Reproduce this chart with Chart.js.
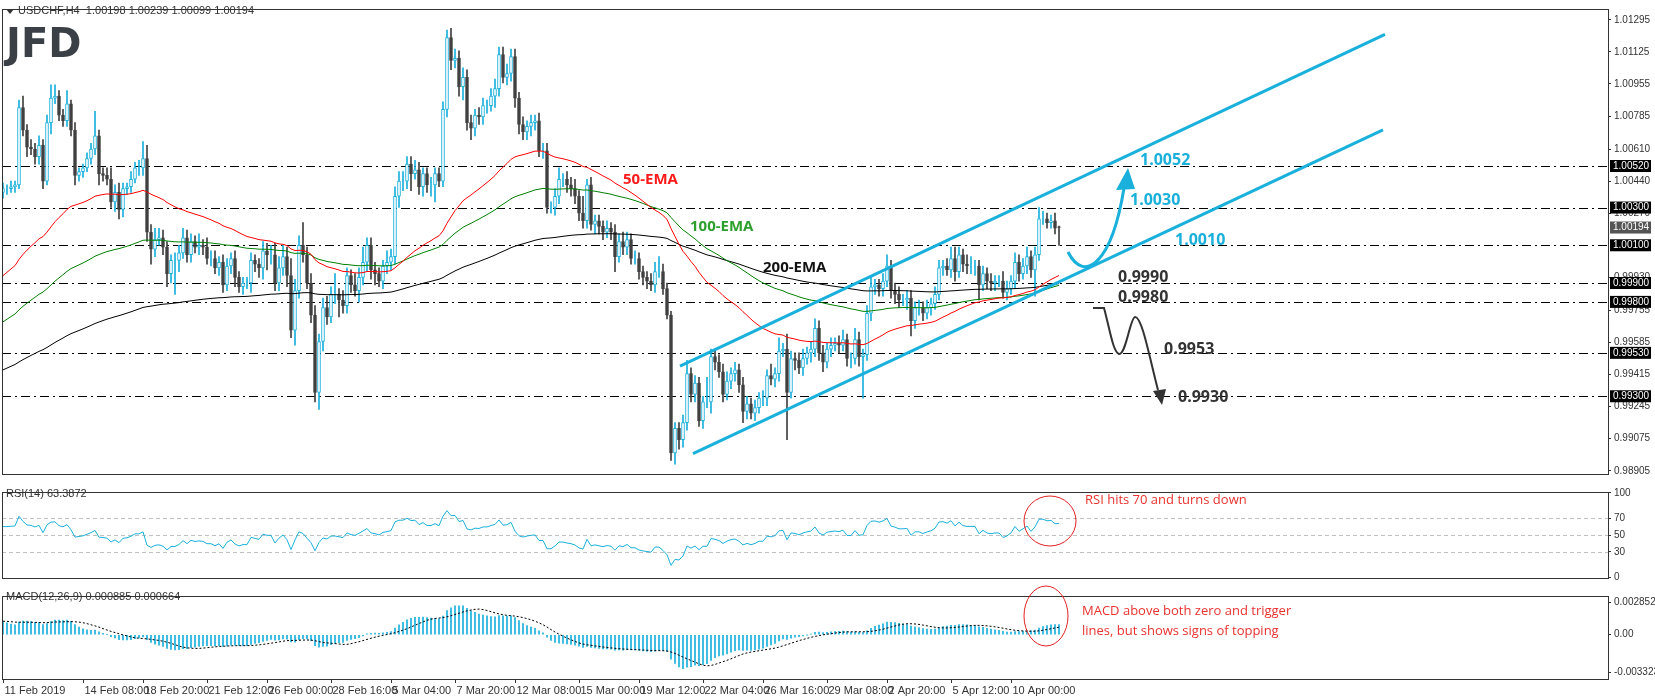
<!DOCTYPE html>
<html><head><meta charset="utf-8">
<script src="https://cdn.jsdelivr.net/npm/chart.js@4.4.1/dist/chart.umd.min.js"></script>
<style>
body{margin:0;width:1655px;height:700px;background:#fff;position:relative;overflow:hidden;font-family:'DejaVu Sans',sans-serif}
canvas{position:absolute;left:0;display:block}
#ov{top:0;pointer-events:none}
</style></head><body>
<canvas id="c1" width="1655" height="483" style="top:0;width:1655px;height:483px"></canvas>
<canvas id="c2" width="1655" height="104" style="top:483px;width:1655px;height:104px"></canvas>
<canvas id="c3" width="1655" height="113" style="top:587px;width:1655px;height:113px"></canvas>
<canvas id="ov" width="1655" height="700" style="width:1655px;height:700px"></canvas>
<script>
// ---- data ----
const closes = [
1.0040,1.0040,1.0041,1.0042,1.0083,1.0071,1.0062,1.0061,1.0057,1.0063,
1.0044,1.0075,1.0088,1.0089,1.0079,1.0076,1.0085,1.0071,1.0047,1.0049,
1.0051,1.0056,1.0061,1.0068,1.0048,1.0047,1.0045,1.0033,1.0038,1.0029,
1.0040,1.0041,1.0045,1.0051,1.0051,1.0056,1.0017,1.0008,1.0013,1.0014,
1.0009,0.9995,1.0002,1.0002,1.0006,1.0014,1.0005,1.0012,1.0009,1.0010,
1.0009,1.0003,1.0003,0.9998,1.0001,0.9989,0.9999,1.0003,0.9993,0.9988,
0.9990,0.9990,
1.0002,1.0000,0.9998,1.0007,1.0005,1.0005,0.9990,0.9998,1.0004,0.9994,
0.9965,0.9986,1.0010,1.0005,0.9990,0.9973,0.9932,0.9959,0.9977,0.9972,
0.9984,0.9984,0.9981,0.9978,0.9994,0.9989,0.9986,0.9993,1.0001,1.0010,
0.9997,0.9995,0.9991,0.9999,1.0001,1.0004,1.0036,1.0044,1.0044,1.0053,
1.0048,1.0050,1.0041,1.0048,1.0042,1.0042,1.0048,1.0044,1.0082,1.0120,
1.0108,1.0109,1.0094,1.0099,1.0075,1.0072,1.0079,1.0078,1.0084,1.0084,
1.0089,1.0093,1.0111,1.0099,1.0101,
1.0110,1.0088,1.0074,1.0070,1.0073,1.0075,1.0076,1.0060,1.0060,1.0030,
1.0030,1.0036,1.0045,1.0045,1.0042,1.0040,1.0036,1.0027,1.0023,1.0042,
1.0021,1.0023,1.0020,1.0017,1.0019,1.0017,1.0004,1.0012,1.0009,1.0013,
1.0003,1.0003,0.9996,0.9993,0.9991,0.9989,0.9996,0.9996,0.9987,0.9973,
0.9900,
0.9913,0.9907,0.9916,0.9942,0.9931,0.9937,0.9917,0.9927,0.9927,0.9951,
0.9948,0.9943,0.9931,0.9938,0.9942,0.9944,0.9936,0.9922,0.9926,0.9921,
0.9924,0.9929,
0.9929,0.9941,0.9939,0.9942,0.9954,0.9955,0.9932,0.9950,0.9949,0.9945,
0.9950,0.9953,0.9955,0.9966,0.9953,0.9948,0.9955,0.9957,0.9958,0.9957,
0.9960,0.9950,0.9950,0.9960,0.9951,0.9952,0.9974,0.9988,0.9989,0.9987,
0.9991,0.9999,0.9986,0.9984,0.9981,0.9981,0.9982,0.9970,0.9977,0.9977,
0.9974,0.9977,0.9979,0.9984,0.9998,0.9999,0.9997,1.0003,0.9996,1.0005,
1.0000,0.9999,0.9999,0.9999,0.9989,0.9995,0.9991,0.9990,0.9991,0.9991,
0.9985,0.9987,0.9991,1.0001,0.9995,0.9999,1.0004,0.9997,1.0005,1.0024,
1.0024,1.0022,1.0023,1.0019,1.00194];
const firstOpen = 1.0038;
const lastOpen = 1.00198;
// upper / lower wick lengths in pips
const upWick = [
3,2,3,2,4,6,3,4,3,5, 3,4,7,6,3,3,7,2,4,2, 2,3,3,13,3,3,4,6,4,5, 3,2,4,3,4,9,7,4,6,5,
4,3,3,4,4,5,4,4,3,6, 3,5,4,4,3,4,4,3,4,3, 3,3,4,3,3,5,4,5,6,6, 6,5,9,6,5,12,4,5,5,4,
5,6,4,11,3,5,4,3,6,5, 8,4,4,4,3,3,6,4,5,5, 5,4,4,5,4,3,3,4,3,3, 4,4,5,5,4,5,4,4,3,4,
4,3,4,5,4,4,5,4,4,3, 4,3,4,3,4,4,4,3,4,6, 3,4,4,5,3,9,3,4,3,3, 3,4,3,4,4,5,4,3,4,3,
3,3,4,5,8,4,3,2,3,3, 4,7,3,4,3,3,13,4,3,4, 4,5,3,4,3,4,4,3,4,3, 4,3,6,3,7,3,8,4,3,4,
5,3,4,5,4,4,3,4,3,4, 5,3,3,6,4,3,4,5,3,3, 4,6,3,4,4,3,4,4,3,4, 3,4,3,4,4,3,4,6,6,4,
3,5,5,3,3,4,3,4,3,3, 5,4,3,5,4,4,5,3,4,6, 4,3,3,4,0.41];
const lowWick = [
3,3,2,3,2,3,5,3,4,4, 4,2,6,3,3,3,3,3,5,3, 3,2,3,3,6,3,3,3,5,5, 4,3,3,2,4,4,5,8,4,3,
4,7,5,18,6,3,4,4,3,4, 4,3,4,3,4,4,3,4,5,3, 4,3,5,4,5,6,8,5,4,4, 4,6,4,8,4,4,3,4,5,9,
5,4,3,5,9,4,4,4,3,6, 4,5,5,6,3,4,4,4,4,6, 5,4,9,3,4,5,4,6,9,3, 3,4,5,4,5,7,4,6,4,4,
4,4,3,6,4,3,4,4,5,5, 4,4,5,4,3,4,3,3,4,4, 4,4,4,4,4,4,4,3,5,4, 4,3,4,8,3,4,4,3,3,4,
4,4,3,4,3,3,2,4,6,5, 4,4,4,4,3,4,3,6,4,3, 4,3,4,4,4,6,4,3,4,3, 4,4,3,4,4,3,25,3,5,3,
4,3,5,4,4,5,3,4,3,4, 3,4,5,3,5,22,3,4,4,4, 4,3,4,5,4,3,5,8,4,4, 4,3,4,3,3,4,3,4,5,3,
4,4,4,5,8,3,4,4,4,3, 3,4,3,4,4,3,4,4,14,3, 3,3,3,3,9.5];
const emaSeeds = {ema50:0.9992, ema100:0.9968, ema200:0.9943};
const levels = [1.0052,1.0030,1.0010,0.9990,0.9980,0.9953,0.9930];
const priceTicks = [1.01295,1.01125,1.00955,1.00785,1.00610,1.00440,1.00270,0.99930,0.99755,0.99585,0.99415,0.99245,0.99075,0.98905];
const rsiTicks = [0,30,50,70,100];
const macdTicks = [-0.003323,0,0.002852];
const dateLabels = ['11 Feb 2019','14 Feb 08:00','18 Feb 20:00','21 Feb 12:00','26 Feb 00:00','28 Feb 16:00','5 Mar 04:00','7 Mar 20:00','12 Mar 08:00','15 Mar 00:00','19 Mar 12:00','22 Mar 04:00','26 Mar 16:00','29 Mar 08:00','2 Apr 20:00','5 Apr 12:00','10 Apr 00:00'];
const dateIdx = [0,20,35,51,66,82,97,113,128,144,159,175,190,206,221,237,252];
const upperChannel = [[169.25,0.99460],[345.5,1.01218]];
const lowerChannel = [[172.5,0.98996],[345,1.00712]];

// ---- derived ----
const N = closes.length;
const opens = closes.map((c,i)=> i===0?firstOpen:(i===N-1?lastOpen:closes[i-1]));
const highs = closes.map((c,i)=>Math.max(c,opens[i])+upWick[i]*0.0001);
const lows = closes.map((c,i)=>Math.min(c,opens[i])-lowWick[i]*0.0001);
function ema(arr,n,seed){const k=2/(n+1);let e=seed;return arr.map(c=>(e=e+k*(c-e)));}
const e50=ema(closes,50,emaSeeds.ema50), e100=ema(closes,100,emaSeeds.ema100), e200=ema(closes,200,emaSeeds.ema200);
let ag=0.0006,al=0.0004;
const rsi=closes.map((c,i)=>{const d=i?c-closes[i-1]:0;ag=(ag*13+Math.max(d,0))/14;al=(al*13+Math.max(-d,0))/14;return 100-100/(1+ag/al);});
const e12=ema(closes,12,closes[0]+0.0005), e26=ema(closes,26,closes[0]-0.0008);
const macd=e12.map((v,i)=>v-e26[i]);
const sig=macd.map((v,i)=>{let s=0;for(let j=i-8;j<=i;j++)s+=(j<0?0.0012:macd[j]);return s/9;});

const CY='#1ab0dc', BR='#404040';
const AXF='"Liberation Sans"';
const XMIN=-0.25, XMAX=401.25;
const pts=a=>a.map((v,i)=>({x:i,y:v}));
Chart.defaults.font.family="'DejaVu Sans',sans-serif";
Chart.defaults.animation=false;
function yAxis(min,max,ticks,fmt){return {position:'right',min,max,
  afterBuildTicks:a=>{a.ticks=ticks.map(v=>({value:v}));},
  afterFit:a=>{a.width=47;},
  ticks:{color:'#333',font:{size:10,family:AXF},padding:3,callback:fmt,autoSkip:false},
  grid:{drawOnChartArea:false,drawTicks:true,tickLength:3,color:'#333'},
  border:{color:'#333'}};}
const xAxis={type:'linear',min:XMIN,max:XMAX,offset:false,bounds:'ticks',display:false,grid:{offset:false}};
const frame={id:'frame',afterDraw(ch){const a=ch.chartArea,c=ch.ctx;c.save();c.strokeStyle='#333';c.lineWidth=1;c.strokeRect(a.left+0.5,a.top+0.5,a.right-a.left,a.bottom-a.top);c.restore();}};
const baseOpts=(pad)=>({responsive:false,maintainAspectRatio:false,devicePixelRatio:1,layout:{padding:pad},
  plugins:{legend:{display:false},tooltip:{enabled:false}}});

// price chart
const levelPlugin={id:'lv',beforeDatasetsDraw(ch){const c=ch.ctx,y=ch.scales.y,a=ch.chartArea;c.save();c.strokeStyle='#000';c.lineWidth=1;c.setLineDash([9,4,2,4]);
  levels.forEach(v=>{const py=Math.round(y.getPixelForValue(v))+0.5;c.beginPath();c.moveTo(a.left,py);c.lineTo(a.right,py);c.stroke();});c.restore();},
 afterDraw(ch){const c=ch.ctx,y=ch.scales.y,a=ch.chartArea;c.save();c.font='10px '+AXF;c.textBaseline='middle';
  const box=(v,txt,col)=>{const py=y.getPixelForValue(v);c.fillStyle=col;c.fillRect(a.right+2,py-6,41,12);c.fillStyle='#fff';c.fillText(txt,a.right+5,py);};
  levels.forEach(v=>box(v,v.toFixed(5),'#000'));box(closes[N-1],closes[N-1].toFixed(5),'#555');c.restore();}};
const o1=baseOpts({left:2,top:3,bottom:2,right:0});
o1.scales={x:xAxis,y:yAxis(0.98888,1.01352,priceTicks,v=>v.toFixed(5))};
new Chart(document.getElementById('c1'),{
 data:{datasets:[
  {type:'line',label:'u',data:upperChannel.map(p=>({x:p[0],y:p[1]})),borderColor:CY,borderWidth:3,pointRadius:0,order:0},
  {type:'line',label:'l',data:lowerChannel.map(p=>({x:p[0],y:p[1]})),borderColor:CY,borderWidth:3,pointRadius:0,order:0},
  {type:'line',label:'50',data:pts(e50),borderColor:'#ff0000',borderWidth:1,pointRadius:0,order:1},
  {type:'line',label:'100',data:pts(e100),borderColor:'#008000',borderWidth:1,pointRadius:0,order:1},
  {type:'line',label:'200',data:pts(e200),borderColor:'#000',borderWidth:1,pointRadius:0,order:1},
  {type:'bar',label:'body',data:closes.map((c,i)=>({x:i,y:[opens[i],c]})),barThickness:3,grouped:false,borderSkipped:false,borderWidth:1,
    backgroundColor:closes.map((c,i)=>c>=opens[i]?'#fff':BR),borderColor:closes.map((c,i)=>c>=opens[i]?CY:BR),order:2},
  {type:'bar',label:'wick',data:closes.map((c,i)=>({x:i,y:[lows[i],highs[i]]})),barThickness:1,grouped:false,
    backgroundColor:closes.map((c,i)=>c>=opens[i]?CY:BR),order:3}
 ]},
 options:o1,plugins:[levelPlugin,frame]});

// RSI
const rsiPlugin={id:'rg',beforeDatasetsDraw(ch){const c=ch.ctx,y=ch.scales.y,a=ch.chartArea;c.save();c.strokeStyle='#c0c0c0';c.setLineDash([4,3]);
  [30,50,70].forEach(v=>{const py=Math.round(y.getPixelForValue(v))+0.5;c.beginPath();c.moveTo(a.left,py);c.lineTo(a.right,py);c.stroke();});c.restore();}};
const o2=baseOpts({left:2,top:1,bottom:1,right:0});
o2.scales={x:xAxis,y:yAxis(-1,101,rsiTicks,v=>String(v))};
new Chart(document.getElementById('c2'),{
 data:{datasets:[{type:'line',data:pts(rsi),borderColor:CY,borderWidth:1,pointRadius:0}]},
 options:o2,plugins:[rsiPlugin,frame]});

// MACD
const datePlugin={id:'dt',afterDraw(ch){const c=ch.ctx,x=ch.scales.x,a=ch.chartArea;c.save();c.strokeStyle='#333';c.fillStyle='#333';c.font='11px '+AXF;c.textBaseline='top';
  dateIdx.forEach((d,k)=>{const px=Math.round(x.getPixelForValue(d))+0.5;c.beginPath();c.moveTo(px,a.bottom);c.lineTo(px,a.bottom+4);c.stroke();c.fillText(dateLabels[k],px+1,a.bottom+6);});c.restore();}};
const o3=baseOpts({left:2,top:2,bottom:21,right:0});
o3.scales={x:xAxis,y:yAxis(-0.00391,0.00342,macdTicks,v=>v===0?'0.00':String(v))};
new Chart(document.getElementById('c3'),{
 data:{datasets:[
  {type:'line',data:pts(sig),borderColor:'#000',borderWidth:1,borderDash:[2,2],pointRadius:0,order:0},
  {type:'bar',data:pts(macd),backgroundColor:CY,barThickness:1,grouped:false,order:1}]},
 options:o3,plugins:[datePlugin,frame]});

// overlay annotations
const o=document.getElementById('ov').getContext('2d');
o.fillStyle='#333';o.font='11px '+AXF;o.textBaseline='middle';
o.beginPath();o.moveTo(6,9);o.lineTo(14,9);o.lineTo(10,14);o.fill();
o.fillText('USDCHF,H4  1.00198 1.00239 1.00099 1.00194',18,11);
o.fillText('RSI(14) 63.3872',6,494);
o.fillText('MACD(12,26,9) 0.000885 0.000664',6,597);
o.fillStyle='#3b3f46';o.font='bold 40px DejaVu Sans';o.textBaseline='alphabetic';o.fillText('JFD',6,57);
o.textBaseline='middle';o.font='bold 15px "Open Sans"';
o.fillStyle='#ff1a1a';o.fillText('50-EMA',623,180);
o.fillStyle='#2ca02c';o.fillText('100-EMA',690,227);
o.fillStyle='#111';o.fillText('200-EMA',763,268);
o.font='bold 16px "Open Sans"';
o.fillStyle=CY;o.fillText('1.0052',1140,160);o.fillText('1.0030',1130,200);o.fillText('1.0010',1175,240);
o.fillStyle='#333';o.fillText('0.9990',1118,277);o.fillText('0.9980',1118,297);o.fillText('0.9953',1164,349);o.fillText('0.9930',1178,397);
o.strokeStyle=CY;o.lineWidth=3;o.beginPath();o.moveTo(1068,252);o.bezierCurveTo(1085,285,1112,262,1124,188);o.stroke();
o.fillStyle=CY;o.beginPath();o.moveTo(1128,168);o.lineTo(1116,190);o.lineTo(1135,189);o.closePath();o.fill();
o.strokeStyle='#333';o.lineWidth=2;o.beginPath();o.moveTo(1093,308);o.lineTo(1104,308);o.bezierCurveTo(1110,330,1113,352,1119,354);
o.bezierCurveTo(1126,355,1130,318,1135,317);o.bezierCurveTo(1142,316,1150,360,1158,390);o.stroke();
o.fillStyle='#333';o.beginPath();o.moveTo(1162,405);o.lineTo(1153,391);o.lineTo(1166,389);o.closePath();o.fill();
o.strokeStyle='#e02020';o.lineWidth=1;
o.beginPath();o.ellipse(1050,521,26,25,0,0,Math.PI*2);o.stroke();
o.beginPath();o.ellipse(1046,616,22,30,0,0,Math.PI*2);o.stroke();
o.fillStyle='#e8322f';o.font='13px "Open Sans"';
o.fillText('RSI hits 70 and turns down',1085,500);
o.fillText('MACD above both zero and trigger',1082,611);
o.fillText('lines, but shows signs of topping',1082,631);
</script></body></html>
